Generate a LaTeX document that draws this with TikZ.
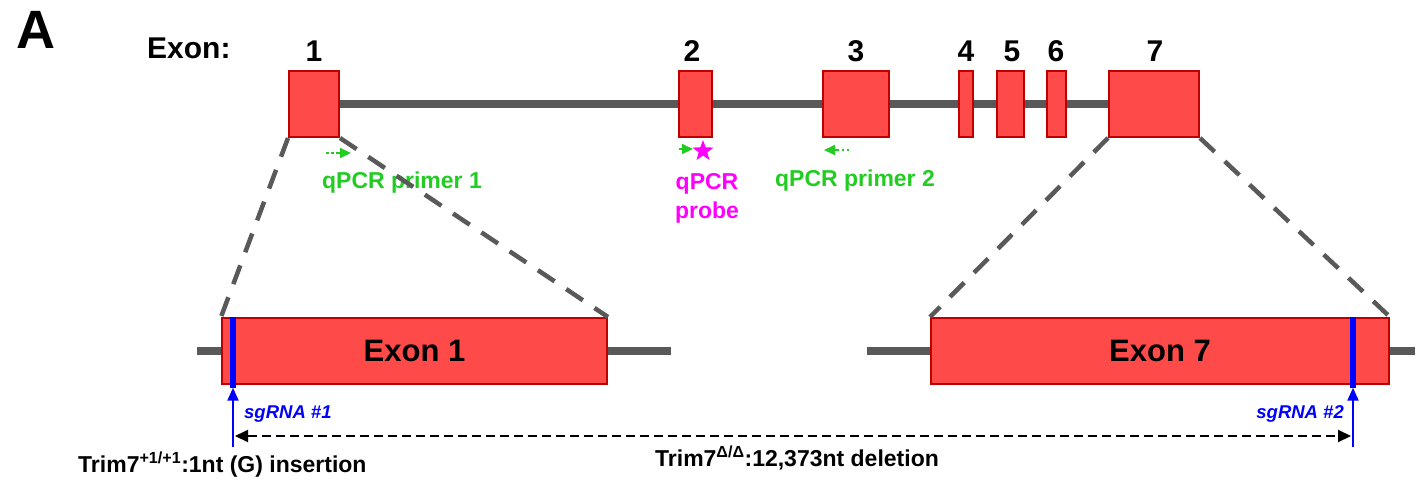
\documentclass[tikz,border=0pt]{standalone}
\usepackage{fontspec}
\setmainfont{Liberation Sans}
\usetikzlibrary{shapes.geometric,arrows.meta,backgrounds}
\definecolor{exred}{HTML}{FF4A4A}
\definecolor{exborder}{HTML}{C00000}
\definecolor{intgray}{HTML}{595959}
\definecolor{prgreen}{HTML}{22CC22}
\definecolor{prmag}{HTML}{FF00FF}
\definecolor{sgblue}{HTML}{0000FF}
\newcommand{\fs}[1]{\fontsize{#1}{#1}\selectfont}
\tikzset{
  exonbox/.style={draw=exborder, fill=exred, line width=2pt, inner sep=0pt, minimum height=66pt},
  intron/.style={draw=intgray, line width=8pt},
  zoomline/.style={draw=intgray, line width=4.5pt, dash pattern=on 20pt off 14pt},
  numlab/.style={font=\fs{30}\bfseries, inner sep=0pt},
  greenlab/.style={font=\fs{23}\bfseries, text=prgreen, inner sep=0pt, align=center},
  primerline/.style={draw=prgreen, line width=2pt, dash pattern=on 2.5pt off 2.5pt},
  primertip/.style={-{Triangle[length=11pt,width=10pt]}, draw=prgreen, fill=prgreen, line width=2pt},
  sgbar/.style={fill=sgblue, draw=none, minimum width=6pt, minimum height=71pt, inner sep=0pt},
  sgarrow/.style={draw=sgblue, line width=2.2pt, -{Triangle[length=13pt,width=11pt]}},
  sglab/.style={font=\fs{18.5}\bfseries\itshape, text=sgblue, inner sep=0pt},
  deletion/.style={draw=black, line width=2pt, dash pattern=on 9pt off 5pt, {Triangle[length=13pt,width=12pt]}-{Triangle[length=13pt,width=12pt]}},
  bottomlab/.style={font=\fs{23}\bfseries, inner sep=0pt},
}
\begin{document}
\begin{tikzpicture}[x=1pt,y=-1pt]
\useasboundingbox (0,0) rectangle (1418,485);
% panel label
\node[font=\fs{54}\bfseries, inner sep=0pt] (A) at (36,30) {A};
\node[numlab, anchor=west] (exlab) at (147,48) {Exon:};
% top exons
\node[exonbox, minimum width=50pt] (e1) at (314,104) {};
\node[exonbox, minimum width=33pt] (e2) at (695.5,104) {};
\node[exonbox, minimum width=66pt] (e3) at (856,104) {};
\node[exonbox, minimum width=14pt] (e4) at (966,104) {};
\node[exonbox, minimum width=27pt] (e5) at (1010.5,104) {};
\node[exonbox, minimum width=19pt] (e6) at (1056.5,104) {};
\node[exonbox, minimum width=90pt] (e7) at (1154,104) {};
\begin{scope}[on background layer]
\draw[intron] (e1.east) -- (e7.west);
\end{scope}
\node[numlab] (n1) at (314,51) {1};
\node[numlab] (n2) at (692,51) {2};
\node[numlab] (n3) at (856,51) {3};
\node[numlab] (n4) at (966,51) {4};
\node[numlab] (n5) at (1012,51) {5};
\node[numlab] (n6) at (1056,51) {6};
\node[numlab] (n7) at (1155,51) {7};
% primers
\coordinate (p1a) at (326,153);
\coordinate (p1b) at (337,153);
\coordinate (p1c) at (351,153);
\draw[primerline] (p1a) -- (p1b);
\draw[primertip] (p1b) -- (p1c);
\coordinate (p2a) at (849,150);
\coordinate (p2b) at (837,150);
\coordinate (p2c) at (824,150);
\draw[primerline] (p2a) -- (p2b);
\draw[primertip] (p2b) -- (p2c);
\coordinate (pra) at (679,149);
\coordinate (prb) at (693,149);
\draw[primertip] (pra) -- (prb);
\node[star, star points=5, star point ratio=2.4, fill=prmag, minimum size=22pt, inner sep=0pt] (probe) at (703,151) {};
\node[greenlab] (lp1) at (402,183) {qPCR primer 1};
\node[greenlab] (lp2) at (855,181) {qPCR primer 2};
\node[greenlab, text=prmag, align=center] (lpr) at (707,198) {qPCR\\[6pt]probe};
% lower exons
\node[exonbox, minimum width=385pt, font=\fs{31}\bfseries] (x1) at (414.5,351) {Exon 1};
\node[exonbox, minimum width=458pt, font=\fs{31}\bfseries] (x7) at (1160,351) {Exon 7};
\coordinate (l1) at (197,351);
\coordinate (r1) at (671,351);
\coordinate (l7) at (867,351);
\coordinate (r7) at (1415,351);
\begin{scope}[on background layer]
\draw[intron] (l1) -- (x1.west);
\draw[intron] (x1.east) -- (r1);
\draw[intron] (l7) -- (x7.west);
\draw[intron] (x7.east) -- (r7);
\end{scope}
% zoom lines
\draw[zoomline] (e1.south west) -- (x1.north west);
\draw[zoomline] (e1.south east) -- (x1.north east);
\draw[zoomline] (e7.south west) -- (x7.north west);
\draw[zoomline] (e7.south east) -- (x7.north east);
% sgRNA
\node[sgbar] (s1) at (233,352) {};
\node[sgbar] (s2) at (1353,352) {};
\coordinate (a1) at (233,447);
\coordinate (a2) at (1353,447);
\draw[sgarrow] (a1) -- (s1.south);
\draw[sgarrow] (a2) -- (s2.south);
\node[sglab, anchor=west] (sl1) at (244,414) {sgRNA \#1};
\node[sglab, anchor=east] (sl2) at (1344,414) {sgRNA \#2};
% deletion arrow
\coordinate (d1) at (235,436);
\coordinate (d2) at (1351,436);
\draw[deletion] (d1) -- (d2);
\node[bottomlab, anchor=west] (t1) at (78,465) {Trim7\textsuperscript{+1/+1}:1nt (G) insertion};
\node[bottomlab] (t2) at (797,458) {Trim7\textsuperscript{Δ/Δ}:12,373nt deletion};
\end{tikzpicture}
\end{document}
